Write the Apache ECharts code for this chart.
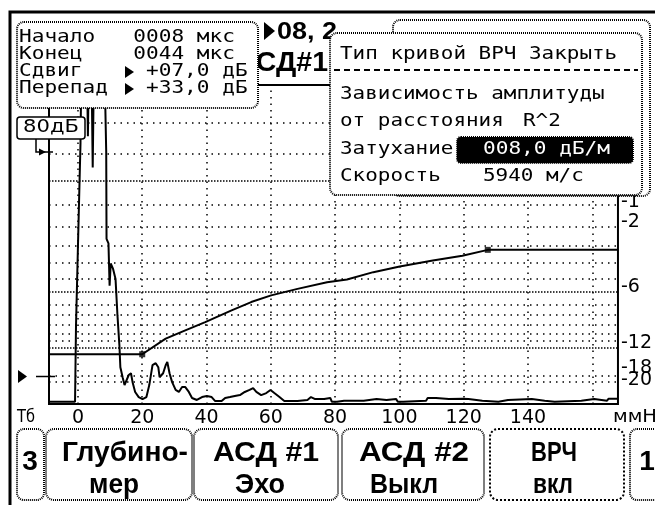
<!DOCTYPE html>
<html>
<head>
<meta charset="utf-8">
<script src="https://cdn.jsdelivr.net/npm/echarts@6/dist/echarts.min.js"></script>
<style>
html, body { margin: 0; padding: 0; background: #fff; }
#chart { width: 655px; height: 505px; }
</style>
</head>
<body>
<div id="chart"></div>
<script>
// шкала по горизонтали (мм) и по вертикали (дБ)
var xLabels = [0, 20, 40, 60, 80, 100, 120, 140];
var gridMm = [0, 20, 40, 60, 80, 100, 120, 140, 160];
var gridDb = [2, 1, 0, -1, -2, -3, -4, -5, -6, -7, -8, -9, -10, -11, -12, -18, -20];
var denseDb = [0, -6, -12];
var dbLabels = [-1, -2, -6, -12, -18];
var dbLabelsLow = [-20];

// А-скан: [мм, амплитуда %]
var echoTrace = [
  [-9, 1.0], [-0.9, 1.0], [-0.8, 12], [-0.6, 35], [0.3, 88], [0.8, 117], [1.0, 142],
  [2.9, 142], [3.1, 120], [3.3, 142], [4.3, 142], [4.6, 106], [4.9, 142],
  [8.4, 142], [8.8, 113], [8.9, 74], [9.5, 72], [9.85, 53], [10.2, 63], [10.6, 63],
  [10.9, 60.7], [11.7, 56], [12.3, 39.7], [12.9, 26.3], [13.2, 16.5], [13.9, 12],
  [14.5, 8.5], [15.0, 8.5], [15.8, 13], [16.5, 13.8], [17.0, 9.8], [17.8, 5.4],
  [18.9, 3.1], [20.1, 2.2], [21.3, 3.1], [22.2, 8.5], [23.2, 17.4], [24.2, 18.3],
  [25.0, 16.5], [25.4, 12], [26.5, 13.8], [27.3, 17.4], [27.8, 18.8], [28.5, 13.8],
  [29.3, 9.8], [30.4, 6.3], [31.4, 5.4], [32.4, 7.6], [33.4, 7.6], [34.5, 5.4],
  [35.5, 2.7], [37.0, 1.8], [38.6, 3.1], [40.1, 3.6], [41.6, 3.1], [42.7, 1.3],
  [44.7, 1.3], [45.8, 2.7], [47.3, 3.1], [48.8, 3.6], [50.4, 4.0], [51.9, 5.4],
  [53.4, 6.3], [54.5, 7.1], [55.5, 5.4], [57.0, 4.0], [58.6, 4.9], [59.9, 6.3],
  [61.1, 4.9], [62.7, 3.1], [64.2, 1.3], [68.3, 1.3], [71.4, 1.8], [72.5, 3.1],
  [73.8, 2.2], [76.6, 2.2], [77.2, 2.7], [78.5, 2.7], [79.0, 1.0], [80.6, 1.0],
  [81.2, 1.8], [82.8, 1.5], [88.9, 1.5], [89.5, 2.2], [92.9, 2.2], [93.5, 1.8],
  [96.0, 1.8], [96.5, 2.2], [99.0, 2.2], [99.5, 1.0], [101.2, 1.0], [101.8, 1.5],
  [108.3, 1.5], [108.8, 2.7], [111.4, 2.7], [111.9, 2.2], [115.4, 2.2], [115.9, 2.4],
  [119.7, 2.4], [120.2, 2.2], [121.5, 2.2], [122.0, 1.5], [125.8, 1.5], [126.3, 1.0],
  [130.8, 1.0], [131.3, 1.8], [133.8, 1.8], [134.3, 2.2], [141.2, 2.2], [141.7, 1.5],
  [145.2, 1.5], [145.7, 1.0], [148.3, 1.0], [148.8, 1.5], [156.6, 1.5], [157.1, 2.2],
  [160.6, 2.2], [161.1, 1.5], [164.6, 1.5], [165.1, 2.4], [168, 2.4]
];

// кривая ВРЧ
var dacMm = [-9, 20, 27.3, 33.4, 39.6, 47.8, 53.9, 60.1, 68.3, 77.5, 83.7, 91.9, 100.1, 110.4, 119.6, 127.5, 168];
var dacAmp = [22.3, 22.3, 29.3, 33, 36.7, 42, 45.7, 48.7, 51.6, 54.6, 55.8, 59.1, 61.6, 64.3, 66.5, 69.1, 69.1];
var dacKnotMm = [20, 127.5];
var dacKnotAmp = [22.3, 69.1];

function dbToAmp(db) { return 100 * Math.pow(10, db / 20); }
function ampToDb(v) { return Math.round(20 * Math.log10(v / 100)); }

var hLines = gridDb.map(function (db) {
  var dense = denseDb.indexOf(db) >= 0;
  return { yAxis: dbToAmp(db), lineStyle: { type: dense ? [1.5, 1.5] : [1.5, 5], width: 1.5, color: '#000' } };
});
var vLines = gridMm.map(function (mm) {
  return { xAxis: mm, lineStyle: { type: [1.5, 5], width: 1.5, color: '#000' } };
});

// подписи дБ чуть выше своих линий
var labelShift = { '-1': 6, '-2': 10, '-6': 10, '-12': 10, '-18': 16, '-20': 4 };
var rich = {};
dbLabels.concat(dbLabelsLow).forEach(function (db) {
  rich['d' + (-db)] = { padding: [0, 0, labelShift[String(db)], 0], fontSize: 19, fontFamily: 'DejaVu Sans', color: '#000' };
});
function dbAxis(values) {
  return {
    type: 'value', min: 0, max: 143, position: 'right',
    axisLine: { show: false }, axisTick: { show: false }, splitLine: { show: false },
    axisLabel: {
      customValues: values.map(dbToAmp), margin: 3, rich: rich, hideOverlap: false,
      formatter: function (v) { var db = ampToDb(v); return '{d' + (-db) + '|' + db + '}'; }
    }
  };
}

// --- текст и рамки экрана ---
var mctx = document.createElement('canvas').getContext('2d');
var MONO = '17px "DejaVu Sans Mono"';
function mono(s, x, y, cell, fill, z) {
  mctx.font = MONO;
  var cw = mctx.measureText('0').width;
  return { type: 'text', x: x, y: y, scaleX: cell / cw, z: z || 110,
    style: { text: s, font: MONO, fill: fill || '#000', align: 'left', verticalAlign: 'middle' } };
}
function fit(s, x, y, font, width, align, z) {
  mctx.font = font;
  var w = mctx.measureText(s).width;
  return { type: 'text', x: x, y: y, scaleX: width ? width / w : 1, z: z || 110,
    style: { text: s, font: font, fill: '#000', align: align || 'center', verticalAlign: 'middle' } };
}
function rbox(x, y, w, h, r, fill, z, dash) {
  return { type: 'rect', z: z || 100, shape: { x: x, y: y, width: w, height: h, r: r },
    style: { fill: fill || '#fff', stroke: '#000', lineWidth: 2, lineDash: dash || [1, 1] } };
}
function seg(points, w, z, dash) {
  return { type: 'polyline', z: z || 105, shape: { points: points },
    style: { stroke: '#000', lineWidth: w || 1.5, fill: null, lineDash: dash || null } };
}
function tri(points, z) {
  return { type: 'polygon', z: z || 105, shape: { points: points }, style: { fill: '#000' } };
}

var BOLD = 'bold 28px "Liberation Sans"';
var gfx = [
  // внешняя рамка
  seg([[10, 505], [10, 12], [655, 12]], 3, 130),

  // заголовок справа от панели
  tri([[264, 22], [275, 31], [264, 40]], 95),
  fit('08, 2', 277, 32, 'bold 24px "Liberation Sans"', 60, 'left', 95),
  fit('АСД#1', 328, 64, 'bold 27px "Liberation Sans"', 92, 'right', 95),

  // панель параметров строба
  rbox(17, 22, 241, 86, 7, '#fff', 100),
  mono('Начало   0008 мкс', 19, 38, 12.7),
  mono('Конец    0044 мкс', 19, 55, 12.7),
  mono('Сдвиг     +07,0 дБ', 19, 72, 12.7),
  mono('Перепад   +33,0 дБ', 19, 89, 12.7),
  tri([[125, 66], [134, 72], [125, 78]], 110),
  tri([[125, 83], [134, 89], [125, 95]], 110),

  // усиление
  { type: 'rect', z: 100, shape: { x: 17, y: 117, width: 68, height: 22, r: 3 },
    style: { fill: '#fff', stroke: '#000', lineWidth: 1.5 } },
  fit('80дБ', 51, 128, '17px "DejaVu Sans"', 56, 'center', 110),
  seg([[36, 139], [36, 152], [53, 152]], 1.5, 105),
  tri([[39, 148.5], [46, 152], [39, 155.5]], 105),

  // маркер уровня
  tri([[18, 370], [27, 376.5], [18, 383]], 105),
  seg([[36, 376.5], [55, 376.5]], 1.5, 105),

  // подписи оси
  fit('Тб', 17, 418, '17px "DejaVu Sans"', 18, 'left', 110),
  fit('ммН', 613, 418, '17px "DejaVu Sans"', 44, 'left', 110),

  // окно «Тип кривой ВРЧ»
  rbox(393, 20, 257, 176, 7, '#fff', 100),
  rbox(330, 33, 312, 162, 7, '#fff', 101),
  mono('Тип кривой ВРЧ Закрыть', 340, 55, 12.6),
  seg([[334, 70], [638, 70]], 2, 110, [6, 4]),
  mono('Зависимость амплитуды', 340, 95, 12.6),
  mono('от расстояния', 340, 122, 12.6),
  mono('R^2', 523, 122, 12.6),
  mono('Затухание', 340, 150, 12.6),
  rbox(457, 137, 176, 26, 4, '#000', 105),
  mono('008,0 дБ/м', 483, 150, 12.7, '#fff', 111),
  mono('Скорость', 340, 177, 12.6),
  mono('5940 м/с', 483, 177, 12.6),

  // кнопки
  rbox(17, 429, 27, 71, 7, '#fff', 100),
  fit('3', 30, 462, BOLD, 0, 'center'),
  rbox(46, 429, 146, 71, 8, '#fff', 100),
  fit('Глубино-', 125, 453, BOLD, 126),
  fit('мер', 114, 485, BOLD, 50),
  rbox(194, 429, 144, 71, 8, '#fff', 100),
  fit('АСД #1', 266, 453, BOLD, 106),
  fit('Эхо', 260, 485, BOLD, 50),
  rbox(342, 429, 142, 71, 8, '#fff', 100),
  fit('АСД #2', 414, 453, BOLD, 110),
  fit('Выкл', 404, 485, BOLD, 68),
  rbox(490, 429, 134, 71, 8, '#fff', 100, [2, 2]),
  fit('ВРЧ', 554, 453, BOLD, 46),
  fit('вкл', 553, 485, BOLD, 40),
  rbox(630, 429, 40, 71, 7, '#fff', 100),
  fit('1', 647, 462, BOLD, 0, 'center')
];

var chart = echarts.init(document.getElementById('chart'));
chart.setOption({
  animation: false,
  backgroundColor: '#fff',
  grid: { left: 49, right: 31, top: 85, bottom: 101, show: true, borderColor: '#000', borderWidth: 2 },
  xAxis: {
    type: 'value', min: -9, max: 168,
    axisLine: { show: false }, axisTick: { show: false }, splitLine: { show: false },
    axisLabel: { customValues: xLabels, color: '#000', fontFamily: 'DejaVu Sans', fontSize: 19, margin: 5 }
  },
  yAxis: [dbAxis(dbLabels), dbAxis(dbLabelsLow)],
  series: [
    {
      name: 'сетка', type: 'line', z: 1, data: [], silent: true,
      markLine: { silent: true, symbol: ['none', 'none'], label: { show: false }, data: hLines.concat(vLines) }
    },
    {
      name: 'А-скан', type: 'line', z: 3, data: echoTrace, symbol: 'none',
      lineStyle: { color: '#000', width: 2 }
    },
    {
      name: 'ВРЧ', type: 'line', z: 4, symbol: 'none',
      data: dacMm.map(function (m, i) { return [m, dacAmp[i]]; }),
      lineStyle: { color: '#000', width: 2 }
    },
    {
      name: 'узлы', type: 'scatter', z: 5, symbol: 'rect', symbolSize: 6,
      data: dacKnotMm.map(function (m, i) { return [m, dacKnotAmp[i]]; }),
      itemStyle: { color: '#000' }
    }
  ],
  graphic: gfx
});
</script>
</body>
</html>
